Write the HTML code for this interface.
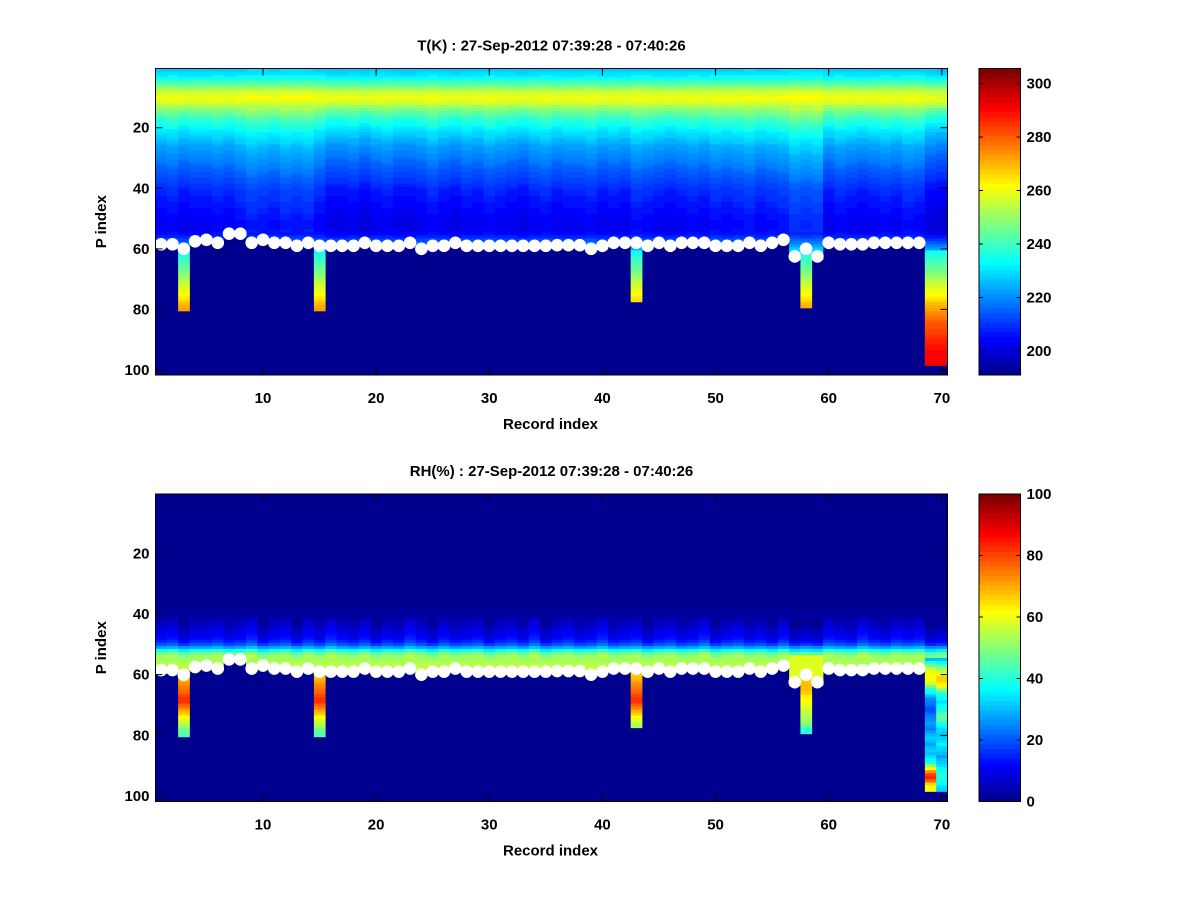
<!DOCTYPE html>
<html><head><meta charset="utf-8"><style>
html,body{margin:0;padding:0;background:#fff;}
svg text{font-family:"Liberation Sans",sans-serif;font-weight:bold;font-size:15px;fill:#000;}
</style></head><body>
<svg id="fig" width="1200" height="900" viewBox="0 0 1200 900" xmlns="http://www.w3.org/2000/svg">
<rect width="1200" height="900" fill="#fff"/>
</svg>
<script>
// ---- data ----
const records = Array.from({length:70},(_,i)=>i+1);
const xTicks = [10,20,30,40,50,60,70];
const yTicks = [20,40,60,80,100];
const tCbarTicks = [200,220,240,260,280,300];
const rhCbarTicks = [0,20,40,60,80,100];
const tRange = [191,305.6];
const rhRange = [0,100];
// surface (white dot) level per record
const surface = [58.5,58.5,60,57.5,57,58,55,55,58,57,58,58,59,58,59,59,59,59,58,59,59,59,58,60,59,59,58,59,59,59,
59,59,59,59,59,58.8,58.8,58.8,60,59,58,58,58,59,58,59,58,58,58,59,59,59,58,59,58,57,62.5,60,62.5,58,
58.5,58.5,58.5,58,58,58,58,58,null,null];
// temperature vertical profile rows 1..64
const tProfile = [228,229,232,236,240,245,250,255,258,260,259,256,252,248,245,242,239,237,235,233,
231,229,228,226,225,223,222,221,220,219,218,217,216,215,214,213,212,211,210,209,
208,208,207,207,206,206,205,205,204,204,203,203,203,204,205,208,212,216,220,224,227,230,233,236];
// temperature below surface rows 61..98 (extension columns)
const tBelow = [234,236,238,240,242,244,246,248,250,252,254,256,258,260,262,264,266,268,270,272,
274,276,278,280,281,282,283,284,285,286,287,288,289,290,290,291,291,292];
// per-record temperature offset
const tColOffset = [0,1,-1,0,0,1,0,2,4,3,2,4,3,4,1,-2,-2,-1,-3,-1,0,-2,-2,-1,1,-1,-2,0,-1,1,
0,-1,-2,0,1,-1,0,0,1,-1,0,-1,2,1,0,-1,0,1,0,2,1,2,3,1,2,3,6,5,6,-1,1,0,-1,0,1,0,2,1,-3,-4];
// RH vertical profile rows 1..64
const rhProfile = [1,1,1,1,1,1,1,1,1,1,1,1,1,1,1,1,1,1,1,1,1,1,1,1,1,1,1,1,1,1,1,1,1,1,1,1,1,1,
2,3,3,4,5,6,8,9,10,12,15,20,28,38,48,52,53,54,55,56,56,56,56,57,58,58];
// RH per-record offset (transition zone)
const rhColOffset = [0,1,-2,0,0,1,-1,0,2,-2,0,1,-2,1,-1,2,0,-1,1,-2,0,-1,2,0,-2,1,-1,0,1,-2,
0,1,-1,2,-2,0,1,-1,0,2,-1,0,1,-2,0,1,-1,0,2,-2,0,1,-1,0,-2,1,-3,-2,-3,1,0,-1,2,0,-1,1,0,1,-3,-2];
const extCols = [3,15,43,58,69,70];
const extEnd = [80,80,77,79,98,98];
// RH extension columns
const rhBarA = [60,66,68,70,72,74,76,78,80,82,82,78,74,70,66,62,58,55,52,48,46,45]; // rows 59..80
const rhBar58 = [60,62,64,66,68,68,68,66,64,62,62,60,58,56,55,54,52,50,46,42,40]; // rows 59..79
const rhBar69 = [30,40,48,56,60,62,62,60,58,46,40,36,30,26,24,22,20,20,22,24,26,28,26,24,28,30,32,30,28,30,32,30,34,36,40,50,62,72,80,84,78,66,62,60]; // rows 55..98
const rhBar70 = [30,36,44,50,56,62,66,66,64,60,50,42,38,36,34,36,38,40,44,46,44,40,36,34,32,30,32,34,36,34,32,30,28,30,32,34,36,38,40,40,38,36,34,32]; // rows 55..98

// ---- helpers ----
const NS="http://www.w3.org/2000/svg";
const fig=document.getElementById('fig');
function mk(tag,attrs,parent){const e=document.createElementNS(NS,tag);for(const k in attrs)e.setAttribute(k,attrs[k]);(parent||fig).appendChild(e);return e;}
function jet(t){t=Math.max(0,Math.min(1,t));const i=Math.min(63,Math.floor(t*64));const v=(i+1)/64*4;
  const c=x=>Math.round(255*Math.max(0,Math.min(1,x)));
  const r=c(Math.min(v-1.5,4.5-v)), g=c(Math.min(v-0.5,3.5-v)), b=c(Math.min(v+0.5,2.5-v));
  return `rgb(${r},${g},${b})`;}

function panel(cfg){
  const {L,R,T,B,yTickPx20,yTickPx100,title,range,kind,cbT,cbB,cbTicks}=cfg;
  const X=v=>L+(v-0.5)/70*(R-L);
  const yPer=(yTickPx100-yTickPx20)/80;
  const Y=v=>yTickPx20+(v-20)*yPer;
  const C=v=>jet((v-range[0])/(range[1]-range[0]));
  const g=mk('g',{});
  
  
  const bg=mk('rect',{x:L,y:T,width:R-L,height:B-T,fill:jet(0)},g);
  
  
  const cells=mk('g',{},g);
  
  
  const w=(R-L)/70;
  records.forEach((rec,ci)=>{
    const ei=extCols.indexOf(rec);
    const lastRow = ei>=0 ? extEnd[ei] : Math.round(surface[ci]);
    for(let r=1;r<=lastRow;r++){
      let v;
      if(kind==='t'){
        if(r<=60||ei<0) v=tProfile[Math.min(r,64)-1]+tColOffset[ci]*(r<14?0.3:(r<55?1:0.5));
        else v=tBelow[r-61];
      } else {
        const base=rhProfile[Math.min(r,64)-1];
        const tz=(r>=42&&r<=54)?rhColOffset[ci]*1.5:0;
        v=base+tz;
        if(rec===69&&r>=55) v=rhBar69[r-55];
        else if(rec===70&&r>=55) v=rhBar70[r-55];
        else if(rec===58&&r>=59) v=rhBar58[r-59];
        else if((rec===57||rec===59||rec===58)&&r>=54) v=58;
      else if(ei>=0&&r>=59) v=rhBarA[r-59];
      }
      if(v<=range[0]+1 && kind==='rh') continue;
      const cell=mk('rect',{x:(X(rec-0.5)).toFixed(2),y:(Y(r-0.5)).toFixed(2),width:(w+0.4).toFixed(2),height:(yPer+0.4).toFixed(2),fill:C(v)},cells);
      
      
    }
  });
  const dots=mk('g',{},g);
  
  
  records.forEach((rec,ci)=>{
    if(surface[ci]==null) return;
    const d=mk('circle',{cx:X(rec).toFixed(2),cy:Y(surface[ci]).toFixed(2),r:6.3,fill:'#fff'},dots);
    
    
  });
  const fr=mk('rect',{x:L,y:T,width:R-L,height:B-T,fill:'none',stroke:'#000','stroke-width':1},g);
  
  
  xTicks.forEach(t=>{
    const x=X(t);
    const tk=mk('path',{d:`M${x},${B}v-7M${x},${T}v7`,stroke:'#000','stroke-width':1},g);
    
    
    const lb=mk('text',{x:x,y:B+28,'text-anchor':'middle'},g);lb.textContent=t;
    
    
  });
  yTicks.forEach(t=>{
    const y=Y(t);
    const tk=mk('path',{d:`M${L},${y}h7M${R},${y}h-7`,stroke:'#000','stroke-width':1},g);
    
    
    const lb=mk('text',{x:L-6,y:y+5,'text-anchor':'end'},g);lb.textContent=t;
    
    
  });
  const ti=mk('text',{x:(L+R)/2,y:T-18,'text-anchor':'middle'},g);ti.textContent=title;
  
  
  const xl=mk('text',{x:(L+R)/2-1,y:B+54,'text-anchor':'middle','font-size':'17'},g);xl.textContent='Record index';
  
  
  const ym=(T+B)/2;
  const yl=mk('text',{x:106,y:ym,'text-anchor':'middle','font-size':'17',transform:`rotate(-90 106 ${ym})`},g);yl.textContent='P index';
  
  
  const cbL=979,cbR=1020.5;
  const cb=mk('g',{},g);
  
  
  const sh=(cbB-cbT)/64;
  for(let i=0;i<64;i++){
    const s=mk('rect',{x:cbL,y:(cbB-(i+1)*sh).toFixed(2),width:cbR-cbL,height:(sh+0.4).toFixed(2),fill:jet((i+0.5)/64)},cb);
    
    
  }
  const cf=mk('rect',{x:cbL,y:cbT,width:cbR-cbL,height:cbB-cbT,fill:'none',stroke:'#000'},cb);
  
  
  const CY=v=>cbB-(v-range[0])/(range[1]-range[0])*(cbB-cbT);
  cbTicks.forEach(t=>{
    const y=CY(t);
    const tk=mk('path',{d:`M${cbL},${y}h4M${cbR},${y}h-4`,stroke:'#000'},cb);
    
    
    const lb=mk('text',{x:cbR+6,y:y+5},cb);lb.textContent=t;
    
    
  });
}
panel({L:155.5,R:947.5,T:68.5,B:375,yTickPx20:127.7,yTickPx100:370,title:'T(K) : 27-Sep-2012 07:39:28 - 07:40:26',range:tRange,kind:'t',cbT:68.5,cbB:375,cbTicks:tCbarTicks});
panel({L:155.5,R:947.5,T:494,B:801.5,yTickPx20:553.3,yTickPx100:796,title:'RH(%) : 27-Sep-2012 07:39:28 - 07:40:26',range:rhRange,kind:'rh',cbT:494,cbB:801.5,cbTicks:rhCbarTicks});
</script>
</body></html>
